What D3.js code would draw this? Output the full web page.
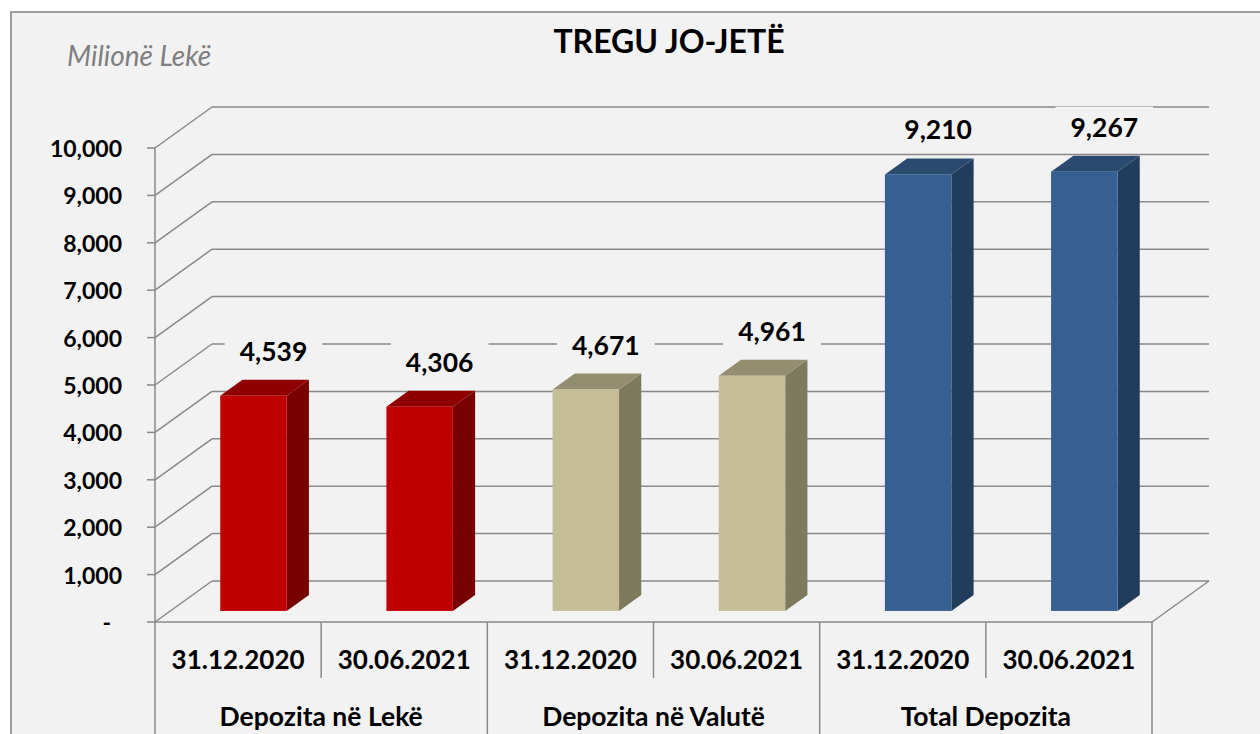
<!DOCTYPE html>
<html>
<head>
<meta charset="utf-8">
<script src="https://cdn.jsdelivr.net/npm/d3@7"></script>
<style>
  html, body { margin: 0; padding: 0; background: #fff; }
  svg { display: block; font-family: Lato, 'Open Sans', sans-serif; }
</style>
</head>
<body>
<div id="chart"></div>
<script>
const groups = ['Depozita në Lekë', 'Depozita në Valutë', 'Total Depozita']
const dates = ['31.12.2020', '30.06.2021']
const values = [4539, 4306, 4671, 4961, 9210, 9267]
const yTicks = [0, 1000, 2000, 3000, 4000, 5000, 6000, 7000, 8000, 9000, 10000]
// front, side, top shades per group
const colors = [
  ['#c00000', '#780000', '#8f0000'],
  ['#c4bd97', '#7e7a5e', '#938e6f'],
  ['#366092', '#223c5b', '#2a4a70']
]

const width = 1260, height = 734
const plot = { left: 155, right: 1152, bottom: 622, top: 148 }
const depthX = 57, depthY = 41
const d0 = 0.27, d1 = 0.66 // bar depth span, as fraction of floor depth
const bg = '#f2f2f2', gridColor = '#898989'

const cats = groups.flatMap((g, gi) => dates.map((d, di) => ({ group: g, gi, date: d, value: values[gi * 2 + di] })))

const svg = d3.select('#chart').append('svg')
  .attr('width', width)
  .attr('height', height)

svg.append('rect')
  .attr('x', 11).attr('y', 12)
  .attr('width', width + 20).attr('height', height + 20)
  .attr('fill', bg)
  .attr('stroke', '#808080')
  .attr('stroke-width', 1.5)

const y = d3.scaleLinear().domain([0, 10000]).range([plot.bottom, plot.top])
const x = d3.scaleBand()
  .domain(d3.range(cats.length))
  .range([plot.left, plot.right])
  .paddingInner(0.6)
  .paddingOuter(0.3)
const xCat = d3.scaleBand().domain(d3.range(cats.length)).range([plot.left, plot.right])
const xGroup = d3.scaleBand().domain(d3.range(groups.length)).range([plot.left, plot.right])

const proj = (px, v, d) => [px + d * depthX, y(v) - d * depthY]

// back wall gridlines + side wall diagonals
const grid = svg.append('g')
  .attr('stroke', gridColor)
  .attr('stroke-width', 1.5)
  .attr('fill', 'none')

grid.selectAll('.back')
  .data(yTicks)
  .join('line')
  .attr('class', 'back')
  .attr('x1', d => proj(plot.left, d, 1)[0])
  .attr('x2', d => proj(plot.right, d, 1)[0])
  .attr('y1', d => proj(plot.left, d, 1)[1])
  .attr('y2', d => proj(plot.left, d, 1)[1])

grid.selectAll('.side')
  .data(yTicks)
  .join('line')
  .attr('class', 'side')
  .attr('x1', plot.left)
  .attr('y1', d => y(d))
  .attr('x2', d => proj(plot.left, d, 1)[0])
  .attr('y2', d => proj(plot.left, d, 1)[1])

// floor right edge
grid.append('line')
  .attr('x1', plot.right).attr('y1', y(0))
  .attr('x2', proj(plot.right, 0, 1)[0]).attr('y2', proj(plot.right, 0, 1)[1])

// y axis
const yAxis = svg.append('g')
yAxis.append('line')
  .attr('x1', plot.left).attr('x2', plot.left)
  .attr('y1', y(10000)).attr('y2', height)
  .attr('stroke', gridColor).attr('stroke-width', 1.5)

yAxis.selectAll('.tick')
  .data(yTicks)
  .join('line')
  .attr('class', 'tick')
  .attr('x1', plot.left - 8).attr('x2', plot.left)
  .attr('y1', d => y(d)).attr('y2', d => y(d))
  .attr('stroke', gridColor).attr('stroke-width', 1.5)

// accounting style: zero shows as a dash, set in from the right edge
yAxis.selectAll('text')
  .data(yTicks)
  .join('text')
  .attr('x', d => d === 0 ? 111 : 122)
  .attr('y', d => y(d) + 9)
  .attr('text-anchor', 'end')
  .attr('font-size', 23)
  .attr('font-weight', 700)
  .attr('fill', '#000')
  .text(d => d === 0 ? '-' : d3.format(',')(d))

// bars
const bars = svg.append('g')
cats.forEach((c, i) => {
  const xb = x(i), w = x.bandwidth()
  const [fx0, fy0] = proj(xb, 0, d0)
  const [, fyT] = proj(xb, c.value, d0)
  const [bx0, byT] = proj(xb, c.value, d1)
  const [, by0] = proj(xb, 0, d1)
  const col = colors[c.gi]
  const g = bars.append('g')
  // side face
  g.append('path')
    .attr('d', `M${fx0 + w},${fy0}L${bx0 + w},${by0}L${bx0 + w},${byT}L${fx0 + w},${fyT}Z`)
    .attr('fill', col[1])
  // top face
  g.append('path')
    .attr('d', `M${fx0},${fyT}L${bx0},${byT}L${bx0 + w},${byT}L${fx0 + w},${fyT}Z`)
    .attr('fill', col[2])
  // front face
  g.append('rect')
    .attr('x', fx0).attr('y', fyT)
    .attr('width', w).attr('height', fy0 - fyT)
    .attr('fill', col[0])
})

// value labels
const fmt = d3.format(',')
const labels = svg.append('g')
cats.forEach((c, i) => {
  const [fx0, fyT] = proj(x(i), c.value, d0)
  const cx = fx0 + x.bandwidth() / 2 + 20
  const cy = fyT - 45
  const t = labels.append('text')
    .attr('x', cx).attr('y', cy + 10)
    .attr('text-anchor', 'middle')
    .attr('font-size', 26.5)
    .attr('font-weight', 700)
    .attr('fill', '#000')
    .text(fmt(c.value))
  const bb = t.node().getBBox()
  labels.insert('rect', () => t.node())
    .attr('x', bb.x - 15).attr('y', bb.y - 4)
    .attr('width', bb.width + 30).attr('height', bb.height + 8)
    .attr('fill', bg)
})

// category axis
const xAxis = svg.append('g')
xAxis.append('line')
  .attr('x1', plot.left).attr('x2', plot.right)
  .attr('y1', plot.bottom).attr('y2', plot.bottom)
  .attr('stroke', gridColor).attr('stroke-width', 1.5)

xAxis.selectAll('.div')
  .data(d3.range(1, cats.length + 1))
  .join('line')
  .attr('class', 'div')
  .attr('x1', d => plot.left + d * xCat.step())
  .attr('x2', d => plot.left + d * xCat.step())
  .attr('y1', plot.bottom)
  .attr('y2', d => d % 2 === 0 ? height : 678)
  .attr('stroke', gridColor).attr('stroke-width', 1.5)

xAxis.selectAll('.date')
  .data(cats)
  .join('text')
  .attr('class', 'date')
  .attr('x', (d, i) => xCat(i) + xCat.bandwidth() / 2)
  .attr('y', 669)
  .attr('text-anchor', 'middle')
  .attr('font-size', 26)
  .attr('font-weight', 700)
  .text(d => d.date)

xAxis.selectAll('.group')
  .data(groups)
  .join('text')
  .attr('class', 'group')
  .attr('x', (d, i) => xGroup(i) + xGroup.bandwidth() / 2)
  .attr('y', 726)
  .attr('text-anchor', 'middle')
  .attr('font-size', 26.5)
  .attr('font-weight', 700)
  .text(d => d)

// titles
svg.append('text')
  .attr('x', 669).attr('y', 53)
  .attr('text-anchor', 'middle')
  .attr('font-size', 32)
  .attr('font-weight', 700)
  .text('TREGU JO-JETË')

svg.append('text')
  .attr('x', 67).attr('y', 66)
  .attr('font-size', 28)
  .attr('font-style', 'italic')
  .attr('fill', '#7f7f7f')
  .text('Milionë Lekë')
</script>
</body>
</html>
